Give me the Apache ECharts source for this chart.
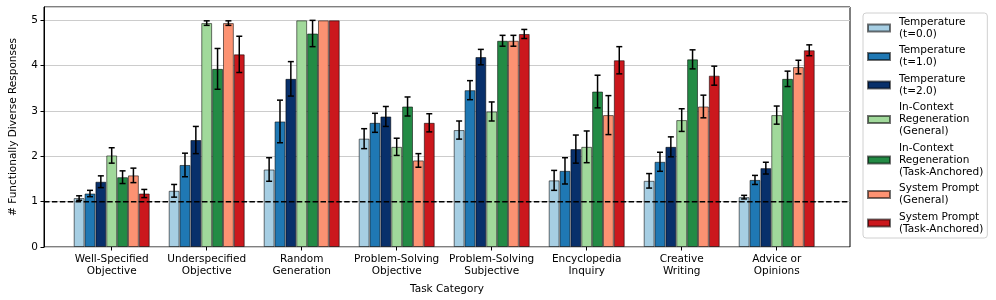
<!DOCTYPE html>
<html><head><meta charset="utf-8">
<script src="https://cdn.jsdelivr.net/npm/echarts@6/dist/echarts.min.js"></script>
<style>html,body{margin:0;padding:0;background:#fff}#c{width:996px;height:300px}</style>
</head><body><div id="c"></div>
<script>
var categories = ['Well-Specified\nObjective','Underspecified\nObjective','Random\nGeneration','Problem-Solving\nObjective','Problem-Solving\nSubjective','Encyclopedia\nInquiry','Creative\nWriting','Advice or\nOpinions'];
var seriesNames = ['Temperature\n(t=0.0)','Temperature\n(t=1.0)','Temperature\n(t=2.0)','In-Context\nRegeneration\n(General)','In-Context\nRegeneration\n(Task-Anchored)','System Prompt\n(General)','System Prompt\n(Task-Anchored)'];
var colors = ['#a6cee3','#1f78b4','#08306b','#a1d99b','#238b45','#fc9272','#cb181d'];
var temp0 = [1.08,1.24,1.71,2.39,2.58,1.47,1.46,1.10];
var temp1 = [1.18,1.81,2.77,2.74,3.46,1.68,1.88,1.48];
var temp2 = [1.44,2.36,3.71,2.88,4.19,2.16,2.21,1.74];
var icrGeneral = [2.02,4.94,5.00,2.21,2.99,2.21,2.80,2.91];
var icrTask = [1.54,3.93,4.71,3.10,4.55,3.43,4.14,3.71];
var spGeneral = [1.58,4.94,5.00,1.91,4.55,2.91,3.10,3.97];
var spTask = [1.18,4.25,5.00,2.74,4.70,4.12,3.78,4.34];
var temp0Err = [0.05,0.14,0.26,0.22,0.20,0.22,0.16,0.04];
var temp1Err = [0.07,0.26,0.47,0.21,0.21,0.29,0.21,0.10];
var temp2Err = [0.13,0.30,0.38,0.22,0.17,0.31,0.22,0.13];
var icrGeneralErr = [0.17,0.05,0.00,0.19,0.21,0.35,0.25,0.20];
var icrTaskErr = [0.14,0.45,0.29,0.21,0.12,0.36,0.21,0.17];
var spGeneralErr = [0.16,0.05,0.00,0.15,0.12,0.43,0.25,0.15];
var spTaskErr = [0.09,0.40,0.00,0.20,0.10,0.30,0.21,0.12];
var baselineValue = 1;
var yTicks = [0,1,2,3,4,5];

var values = [temp0,temp1,temp2,icrGeneral,icrTask,spGeneral,spTask];
var errs = [temp0Err,temp1Err,temp2Err,icrGeneralErr,icrTaskErr,spGeneralErr,spTaskErr];
var YMAX = 5.295;
var FONT = 'DejaVu Sans';

var series = [];
values.forEach(function(v, j){
  series.push({
    type:'bar', name: seriesNames[j], xAxisIndex:1, yAxisIndex:1,
    data: v, barGap:'0%', barCategoryGap:'20%',
    itemStyle:{color:colors[j], borderColor:'rgba(0,0,0,0.55)', borderWidth:1},
    emphasis:{disabled:true}, z:2
  });
});
values.forEach(function(v, j){
  var d = v.map(function(val,i){ return [i, val, errs[j][i]]; });
  series.push({
    type:'custom', xAxisIndex:1, yAxisIndex:1, z:5, silent:true,
    data: d,
    renderItem: function(params, api){
      var i = api.value(0), val = api.value(1), e = api.value(2);
      if (!(e > 0)) return null;
      var c = api.coord([i, val]);
      var bw = api.size([1,0])[0]*0.8/7;
      var x = c[0] + (j-3)*bw;
      var yl = api.coord([i, val-e])[1], yh = api.coord([i, val+e])[1];
      var st = {stroke:'#000', lineWidth:1.5};
      return {type:'group', children:[
        {type:'line', shape:{x1:x,y1:yl,x2:x,y2:yh}, style:st},
        {type:'line', shape:{x1:x-3,y1:yl,x2:x+3,y2:yl}, style:st},
        {type:'line', shape:{x1:x-3,y1:yh,x2:x+3,y2:yh}, style:st}
      ]};
    }
  });
});
series.push({
  type:'line', xAxisIndex:0, yAxisIndex:0, z:10, silent:true, symbol:'none',
  data:[[-0.795, baselineValue],[7.795, baselineValue]],
  lineStyle:{color:'#000', width:1.5, type:[5.5,2.4]}
});

var chart = echarts.init(document.getElementById('c'), null, {renderer:'canvas'});
chart.setOption({
  animation:false,
  textStyle:{fontFamily:FONT},
  grid:[
    {left:36, right:146, top:7, bottom:53, show:true, borderColor:'#000', borderWidth:1, backgroundColor:'transparent'},
    {left:64.2, right:171.8, top:7, bottom:53}
  ],
  xAxis:[
    {type:'value', gridIndex:0, min:-0.795, max:7.795, axisLine:{show:false}, axisTick:{show:false}, axisLabel:{show:false}, splitLine:{show:false},
     name:'Task Category', nameLocation:'middle', nameGap:37, nameTextStyle:{fontFamily:FONT, fontSize:10.5, color:'#000'}},
    {type:'category', gridIndex:1, data:categories, boundaryGap:true,
     axisLine:{show:false}, axisTick:{show:true, alignWithLabel:true, length:3.5, lineStyle:{color:'#000'}},
     axisLabel:{fontFamily:FONT, fontSize:10.5, color:'#000', lineHeight:12.4, margin:6, interval:0}}
  ],
  yAxis:[
    {type:'value', gridIndex:0, min:0, max:YMAX, interval:1,
     axisLine:{show:true, onZero:false, lineStyle:{color:'#000'}}, axisTick:{show:true, length:3.5, lineStyle:{color:'#000'}},
     axisLabel:{fontFamily:FONT, fontSize:10.5, color:'#000', margin:6, showMaxLabel:false,
       formatter:function(v){ return yTicks.indexOf(v) >= 0 ? String(v) : ''; }},
     splitLine:{show:true, lineStyle:{color:'#cccccc', width:1}},
     name:'# Functionally Diverse Responses', nameLocation:'middle', nameGap:25, nameRotate:90,
     nameTextStyle:{fontFamily:FONT, fontSize:10.5, color:'#000'}},
    {type:'value', gridIndex:1, min:0, max:YMAX, show:false}
  ],
  legend:{
    orient:'vertical', left:863, top:13, padding:[3,4,3,4],
    data: seriesNames, icon:'rect', itemWidth:22, itemHeight:7, itemGap:4.5,
    borderColor:'#d0d0d0', borderWidth:1, borderRadius:3,
    textStyle:{fontFamily:FONT, fontSize:10.5, color:'#000', lineHeight:12, padding:[0,0,0,4]},
    selectedMode:false
  },
  series: series
});
</script></body></html>
